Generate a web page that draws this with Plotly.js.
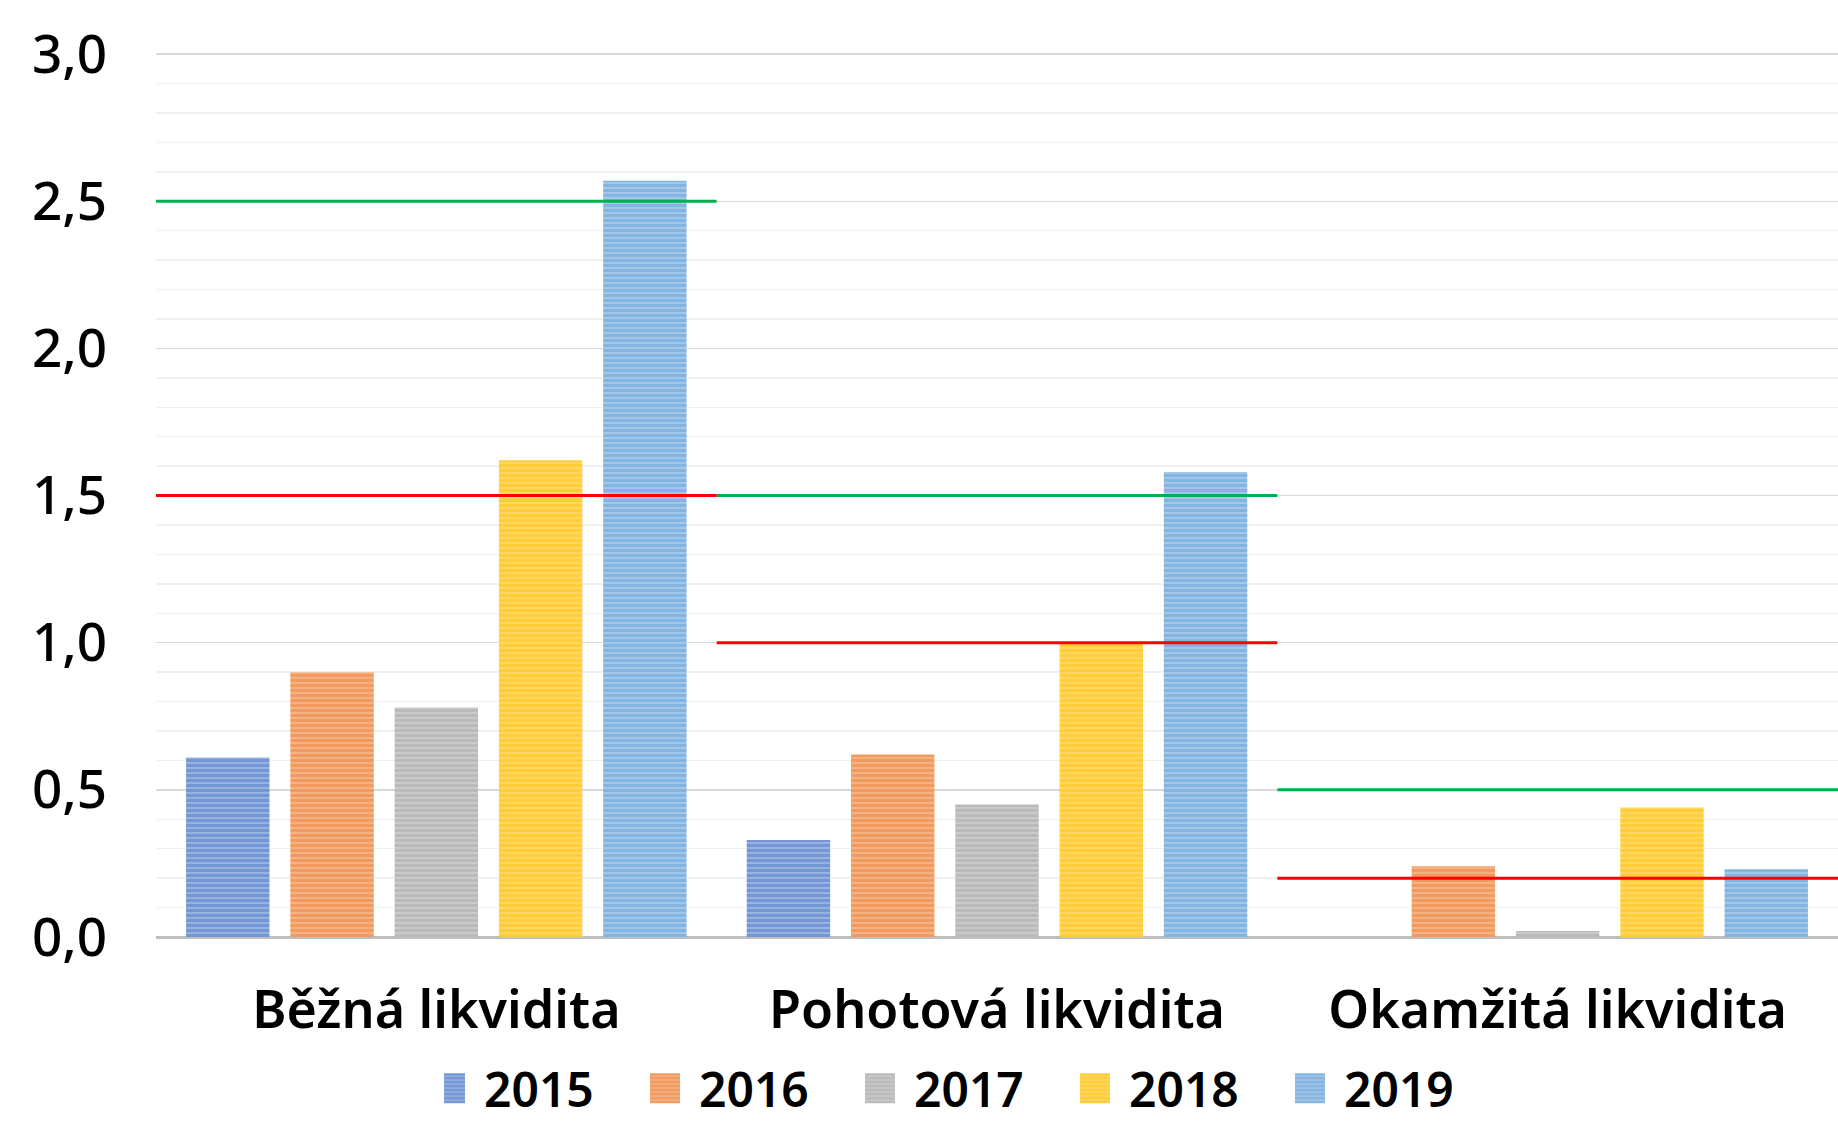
<!DOCTYPE html>
<html>
<head>
<meta charset="utf-8">
<script src="https://cdn.plot.ly/plotly-3.0.1.min.js"></script>
<style>
html,body{margin:0;padding:0;background:#fff;}
#chart{width:1838px;height:1121px;}
</style>
</head>
<body>
<div id="chart"></div>
<script>
const categories = ["Běžná likvidita", "Pohotová likvidita", "Okamžitá likvidita"];
const years = ["2015", "2016", "2017", "2018", "2019"];
const v2015 = [0.61, 0.33, 0.00];
const v2016 = [0.90, 0.62, 0.24];
const v2017 = [0.78, 0.45, 0.02];
const v2018 = [1.62, 1.00, 0.44];
const v2019 = [2.57, 1.58, 0.23];
const upperBound = [2.5, 1.5, 0.5];  // green
const lowerBound = [1.5, 1.0, 0.2];  // red

const seriesValues = [v2015, v2016, v2017, v2018, v2019];
const colors = ["#4472C4", "#ED7D31", "#A5A5A5", "#FFC000", "#5B9BD5"];
const bgColors = ["#A3BAE4", "#F5B98E", "#CFCFCF", "#FFDA70", "#ADCDEA"];

const traces = years.map((y, i) => ({
  type: "bar",
  name: y,
  x: categories,
  y: seriesValues[i],
  marker: {
    color: colors[i],
    line: {width: 0},
    pattern: {shape: "-", fgcolor: colors[i], bgcolor: bgColors[i], size: 5, solidity: 0.7, fillmode: "overlay"}
  },
  hoverinfo: "skip"
}));

const shapes = [];
categories.forEach((c, i) => {
  shapes.push({type: "line", xref: "x", yref: "y", x0: i - 0.5, x1: i + 0.5, y0: upperBound[i], y1: upperBound[i],
    line: {color: "#00B050", width: 3}, layer: "above"});
  shapes.push({type: "line", xref: "x", yref: "y", x0: i - 0.5, x1: i + 0.5, y0: lowerBound[i], y1: lowerBound[i],
    line: {color: "#FF0000", width: 3}, layer: "above"});
});

const layout = {
  width: 1838, height: 1121,
  margin: {l: 156, r: 0, t: 53, b: 184},
  paper_bgcolor: "#fff", plot_bgcolor: "#fff",
  separators: ", ",
  barmode: "group",
  bargap: 0.07,
  bargroupgap: 0.2,
  showlegend: true,
  legend: {
    orientation: "h", xref: "container", yref: "container",
    x: 0.534, xanchor: "center", y: 0.029, yanchor: "middle",
    font: {family: "Noto Sans, sans-serif", size: 48, color: "#000", weight: 600},
    itemwidth: 30, entrywidth: 170, entrywidthmode: "pixels"
  },
  xaxis: {
    type: "category",
    range: [-0.5, 2.5],
    showgrid: false, zeroline: false, showline: false,
    ticks: "", ticklabelstandoff: 38,
    tickfont: {family: "Noto Sans, sans-serif", size: 52, color: "#000", weight: 600}
  },
  yaxis: {
    range: [0, 3.004],
    dtick: 0.5, tick0: 0, tickformat: ".1f",
    showgrid: true, gridcolor: "#D9D9D9", gridwidth: 1.5,
    minor: {dtick: 0.1, showgrid: true, gridcolor: "#F0F0F0", gridwidth: 1.5},
    zeroline: true, zerolinecolor: "#BFBFBF", zerolinewidth: 3,
    showline: false, ticks: "", ticklabelstandoff: 48,
    tickfont: {family: "Noto Sans, sans-serif", size: 53, color: "#000", weight: 500}
  },
  shapes: shapes
};

Plotly.newPlot("chart", traces, layout, {displayModeBar: false, staticPlot: true}).then(() => {
  document.querySelectorAll("#chart .legend .legendpoints path").forEach(p => {
    p.setAttribute("d", "M1,15H-29V-15H1Z");
  });
});
</script>
</body>
</html>
